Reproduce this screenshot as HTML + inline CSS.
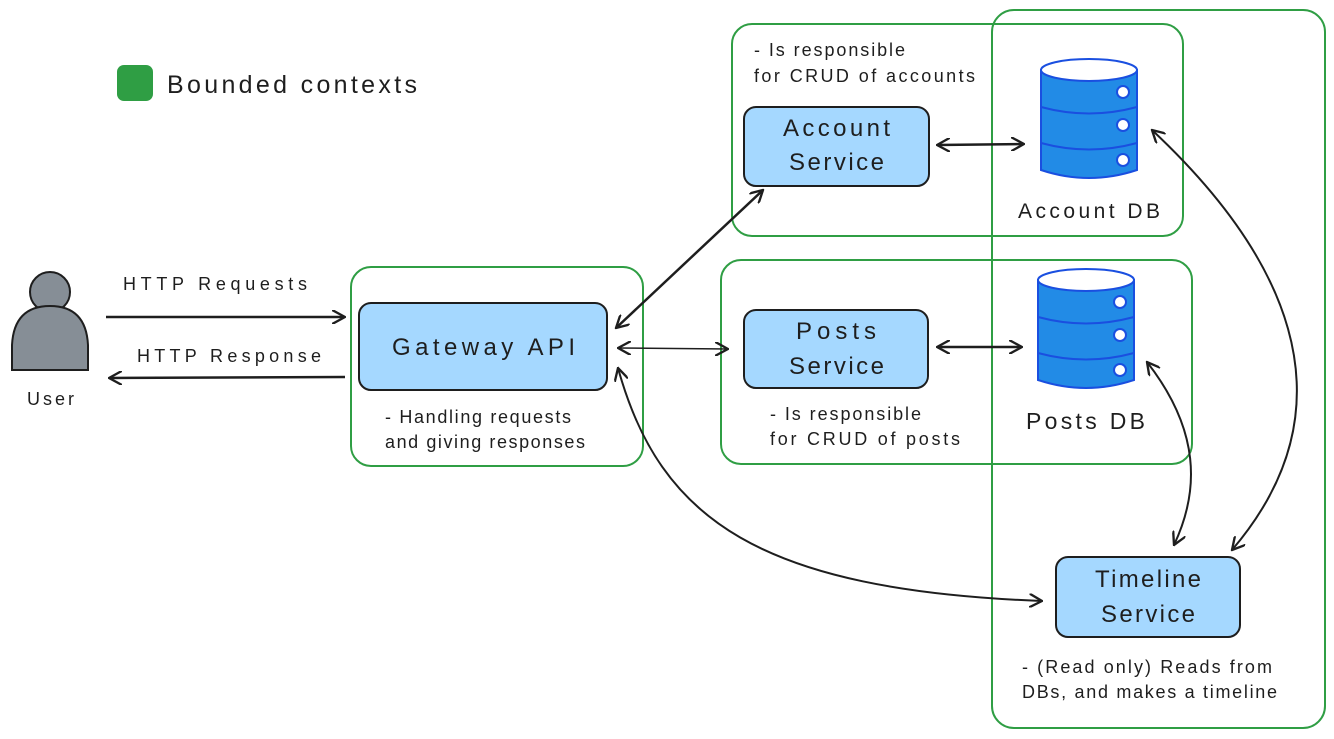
<!DOCTYPE html>
<html><head><meta charset="utf-8"><style>
html,body{margin:0;padding:0;background:#fff;}
svg{display:block;}
text{font-family:"Liberation Sans",sans-serif;fill:#1e1e1e;}
</style></head><body>
<svg width="1334" height="739" viewBox="0 0 1334 739" xmlns="http://www.w3.org/2000/svg">
<defs>
<marker id="a" viewBox="0 0 12 12" refX="11" refY="6" markerWidth="14" markerHeight="14" orient="auto-start-reverse" markerUnits="userSpaceOnUse">
<path d="M0,0 L11,6 L0,12" fill="none" stroke="#1e1e1e" stroke-width="2"/>
</marker>
</defs>
<rect x="117" y="65" width="36" height="36" rx="7" fill="#2f9e44"/>
<text x="167" y="93" font-size="25" textLength="250" lengthAdjust="spacing">Bounded contexts</text>
<g fill="none" stroke="#2f9e44" stroke-width="2">
<rect x="992" y="10" width="333" height="718" rx="22"/>
<rect x="732" y="24" width="451" height="212" rx="20"/>
<rect x="351" y="267" width="292" height="199" rx="20"/>
<rect x="721" y="260" width="471" height="204" rx="20"/>
</g>
<g fill="#a5d8ff" stroke="#1e1e1e" stroke-width="2">
<rect x="744" y="107" width="185" height="79" rx="12"/>
<rect x="359" y="303" width="248" height="87" rx="12"/>
<rect x="744" y="310" width="184" height="78" rx="12"/>
<rect x="1056" y="557" width="184" height="80" rx="12"/>
</g>
<g font-size="24">
<text x="783" y="136" textLength="107" lengthAdjust="spacing">Account</text><text x="789" y="170" textLength="95" lengthAdjust="spacing">Service</text>
<text x="392" y="355" textLength="183" lengthAdjust="spacing">Gateway API</text>
<text x="796" y="339" textLength="80" lengthAdjust="spacing">Posts</text><text x="789" y="374" textLength="95" lengthAdjust="spacing">Service</text>
<text x="1095" y="587" textLength="106" lengthAdjust="spacing">Timeline</text><text x="1101" y="622" textLength="94" lengthAdjust="spacing">Service</text>
</g>
<g font-size="18">
<text x="754" y="56" textLength="151" lengthAdjust="spacing">- Is responsible</text><text x="754" y="82" textLength="221" lengthAdjust="spacing">for CRUD of accounts</text>
<text x="385" y="423" textLength="186" lengthAdjust="spacing">- Handling requests</text><text x="385" y="448" textLength="200" lengthAdjust="spacing">and giving responses</text>
<text x="770" y="420" textLength="151" lengthAdjust="spacing">- Is responsible</text><text x="770" y="445" textLength="190" lengthAdjust="spacing">for CRUD of posts</text>
<text x="1022" y="673" textLength="250" lengthAdjust="spacing">- (Read only) Reads from</text><text x="1022" y="698" textLength="255" lengthAdjust="spacing">DBs, and makes a timeline</text>
<text x="1018" y="218" font-size="21" textLength="142" lengthAdjust="spacing">Account DB</text>
<text x="1026" y="429" font-size="23" textLength="119" lengthAdjust="spacing">Posts DB</text>
<text x="27" y="405" textLength="47" lengthAdjust="spacing">User</text>
<text x="123" y="290" textLength="184" lengthAdjust="spacing">HTTP Requests</text>
<text x="137" y="362" textLength="184" lengthAdjust="spacing">HTTP Response</text>
</g>
<g stroke="#1a4fe0" stroke-width="2">
<path d="M1041,70 L1041,170 Q1089,186 1137,170 L1137,70 Z" fill="#228be6"/>
<ellipse cx="1089" cy="70" rx="48" ry="11" fill="#fff"/>
<path d="M1041,107 Q1089,120 1137,107 M1041,143 Q1089,156 1137,143" fill="none"/>
<circle cx="1123" cy="92" r="6" fill="#fff"/><circle cx="1123" cy="125" r="6" fill="#fff"/><circle cx="1123" cy="160" r="6" fill="#fff"/>
</g>
<g transform="translate(-3,210)" stroke="#1a4fe0" stroke-width="2">
<path d="M1041,70 L1041,170 Q1089,186 1137,170 L1137,70 Z" fill="#228be6"/>
<ellipse cx="1089" cy="70" rx="48" ry="11" fill="#fff"/>
<path d="M1041,107 Q1089,120 1137,107 M1041,143 Q1089,156 1137,143" fill="none"/>
<circle cx="1123" cy="92" r="6" fill="#fff"/><circle cx="1123" cy="125" r="6" fill="#fff"/><circle cx="1123" cy="160" r="6" fill="#fff"/>
</g>
<circle cx="50" cy="292" r="20" fill="#868e96" stroke="#1e1e1e" stroke-width="2"/>
<path d="M12,370 L12,345 Q14,306 50,306 Q86,306 88,345 L88,370 Z" fill="#868e96" stroke="#1e1e1e" stroke-width="2"/>
<g fill="none" stroke="#1e1e1e" stroke-width="2.5">
<path d="M106,317 L345,317" marker-end="url(#a)"/>
<path d="M345,377 L109,378" marker-end="url(#a)"/>
<path d="M937,145 L1024,144" marker-start="url(#a)" marker-end="url(#a)"/>
<path d="M937,347 L1022,347" marker-start="url(#a)" marker-end="url(#a)"/>
<path d="M618,348 L728,349" stroke-width="1.5" marker-start="url(#a)" marker-end="url(#a)"/>
<path d="M616,328 L763,190" marker-start="url(#a)" marker-end="url(#a)"/>
<path d="M618,368 C660,520 760,590 1042,601" stroke-width="2" marker-start="url(#a)" marker-end="url(#a)"/>
<path d="M1152,130 C1280,250 1360,400 1232,550" stroke-width="2" marker-start="url(#a)" marker-end="url(#a)"/>
<path d="M1147,362 C1200,430 1200,490 1174,545" stroke-width="2" marker-start="url(#a)" marker-end="url(#a)"/>
</g>
</svg>
</body></html>
